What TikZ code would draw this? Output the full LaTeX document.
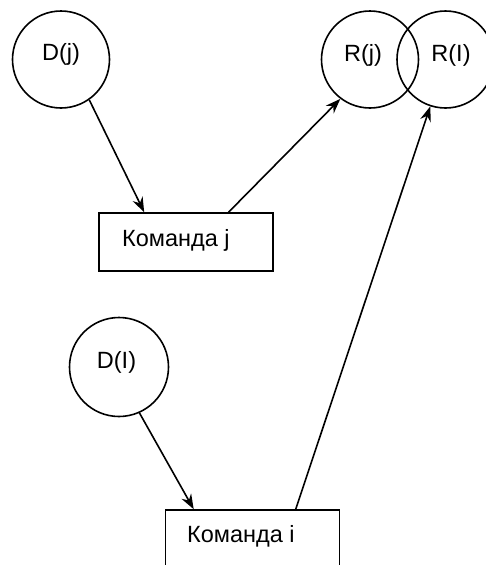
\documentclass[tikz,border=0pt]{standalone}
\usepackage{fontspec}
\setmainfont{Liberation Sans}
\usetikzlibrary{calc,arrows.meta}
\begin{document}
\begin{tikzpicture}[x=1pt,y=-1pt,
  circ/.style={draw,circle,line width=1.6pt,minimum size=97pt,inner sep=0pt},
  box/.style={draw,rectangle,line width=1.6pt,minimum width=174pt,minimum height=58pt,inner sep=0pt},
  lbl/.style={inner sep=0pt,anchor=base,font=\fontsize{23.5}{28}\selectfont},
  arr/.style={line width=1.6pt,-{Stealth[length=15pt,width=11pt,inset=5pt]}}]
\useasboundingbox (0,0) rectangle (485,565);

% sets
\node[circ] (dj) at (61,59.5) {};
\node[lbl] (tdj) at (61,60) {D(j)};
\node[circ] (rj) at (370,59.5) {};
\node[lbl] (trj) at (363,61) {R(j)};
\node[circ] (ri) at (445.5,59.5) {};
\node[lbl] (tri) at (451,61) {R(I)};
\node[circ,minimum size=99pt] (di) at (119,367) {};
\node[lbl] (tdi) at (116.5,368) {D(I)};

% commands
\node[box] (bj) at (186,242) {};
\node[lbl,anchor=base west] (tbj) at (122,246) {Команда j};
\node[box] (bi) at (252.5,539) {};
\node[lbl,anchor=base west] (tbi) at (187,542) {Команда i};

% flows
\draw[arr] (dj.-55) -- ($(bj.north west)+(46,0)$);
\draw[arr] (bj.35.3) -- (rj.233.5);
\draw[arr] (di.-66.5) -- ($(bi.north west)+(29,0)$);
\draw[arr] ($(bi.north west)+(131,0)$) -- (ri.252.8);
\end{tikzpicture}
\end{document}
